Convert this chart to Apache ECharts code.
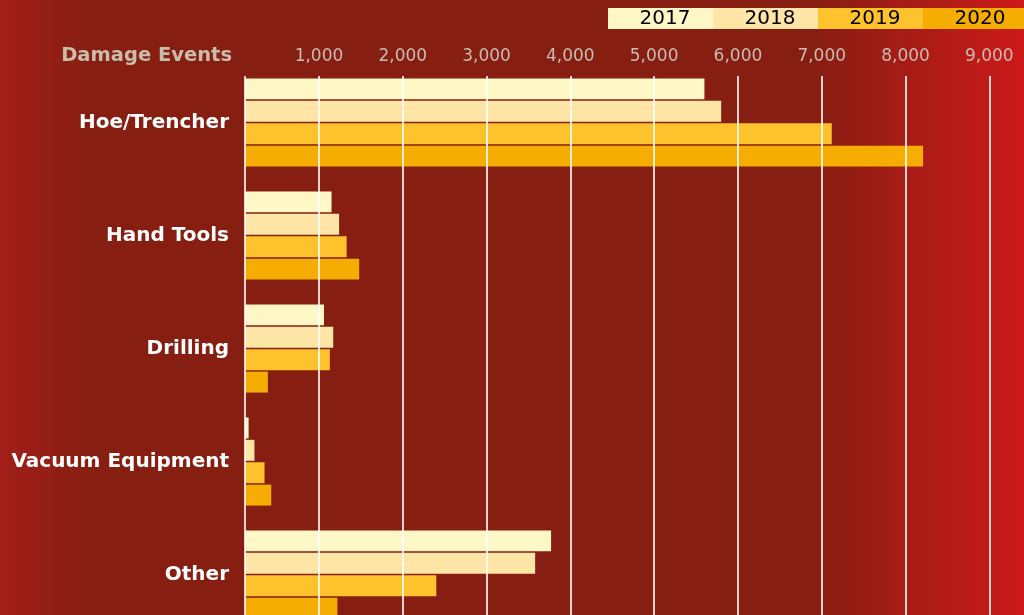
<!DOCTYPE html>
<html>
<head>
<meta charset="utf-8">
<script src="https://cdn.jsdelivr.net/npm/echarts@6/dist/echarts.min.js"></script>
<style>
  html, body { margin: 0; padding: 0; }
  #chart { width: 1024px; height: 615px; }
</style>
</head>
<body>
<div id="chart"></div>
<script>
// data
const categories = ['Hoe/Trencher', 'Hand Tools', 'Drilling', 'Vacuum Equipment', 'Other'];
const years = ['2017', '2018', '2019', '2020'];
const v2017 = [5600, 1150, 1060, 160, 3770];
const v2018 = [5800, 1240, 1170, 230, 3580];
const v2019 = [7120, 1330, 1130, 350, 2400];
const v2020 = [8210, 1480, 390, 430, 1220];
const values = [v2017, v2018, v2019, v2020];
const colors = ['#fff7c6', '#ffe6a6', '#fec22d', '#f4ad00'];

const font = 'DejaVu Sans';

let myChart = echarts.init(document.getElementById('chart'));

// legend as boxes with the year inside
let legendItems = [];
years.forEach((y, i) => {
  legendItems.push({
    type: 'rect',
    shape: { x: 608 + i * 105, y: 8, width: 105, height: 21 },
    style: { fill: colors[i] }
  });
  legendItems.push({
    type: 'text',
    x: 608 + i * 105 + 57,
    y: 19,
    style: {
      text: y,
      fill: '#000',
      font: '20px "' + font + '"',
      textAlign: 'center',
      textVerticalAlign: 'middle'
    }
  });
});

const tickLine = {
  show: true,
  inside: true,
  length: 560,
  lineStyle: { color: '#ffffff', width: 1.6 }
};

myChart.setOption({
  backgroundColor: new echarts.graphic.LinearGradient(0, 0, 1, 0, [
    { offset: 0, color: '#a21f18' },
    { offset: 0.09, color: '#861e12' },
    { offset: 0.79, color: '#861e12' },
    { offset: 1, color: '#cc1a1a' }
  ]),
  animation: false,
  title: {
    text: 'Damage Events',
    left: 232,
    top: 46,
    padding: 0,
    textAlign: 'right',
    textStyle: { color: '#c9bcab', fontFamily: font, fontSize: 19.5, fontWeight: 'bold' }
  },
  graphic: legendItems,
  grid: {
    left: 245,
    right: -3,
    top: 66,
    height: 565,
    outerBoundsMode: 'none'
  },
  xAxis: [{
    type: 'value',
    position: 'top',
    offset: -10,
    min: 117,
    max: 9450,
    minInterval: 1000,
    maxInterval: 1000,
    z: 5,
    axisLine: { show: false },
    splitLine: { show: false },
    axisTick: tickLine,
    axisLabel: {
      color: '#c9bcb3',
      fontFamily: font,
      fontSize: 17,
      margin: 11,
      showMinLabel: false,
      showMaxLabel: false,
      formatter: v => (v % 1000 === 0 ? v.toLocaleString('en-US') : '')
    }
  }, {
    // only for the left edge line
    type: 'value',
    position: 'top',
    offset: -10,
    min: 0,
    max: 1,
    interval: 1,
    z: 5,
    axisLine: { show: false },
    splitLine: { show: false },
    axisLabel: { show: false },
    axisTick: tickLine
  }],
  yAxis: {
    type: 'category',
    inverse: true,
    data: categories,
    axisLine: { show: false },
    axisTick: { show: false },
    splitLine: { show: false },
    axisLabel: {
      color: '#ffffff',
      fontFamily: font,
      fontSize: 20,
      fontWeight: 'bold',
      margin: 16
    }
  },
  series: years.map((y, i) => ({
    name: y,
    type: 'bar',
    xAxisIndex: 0,
    data: values[i],
    barCategoryGap: '22%',
    barGap: '7%',
    itemStyle: { color: colors[i] }
  }))
});
</script>
</body>
</html>
